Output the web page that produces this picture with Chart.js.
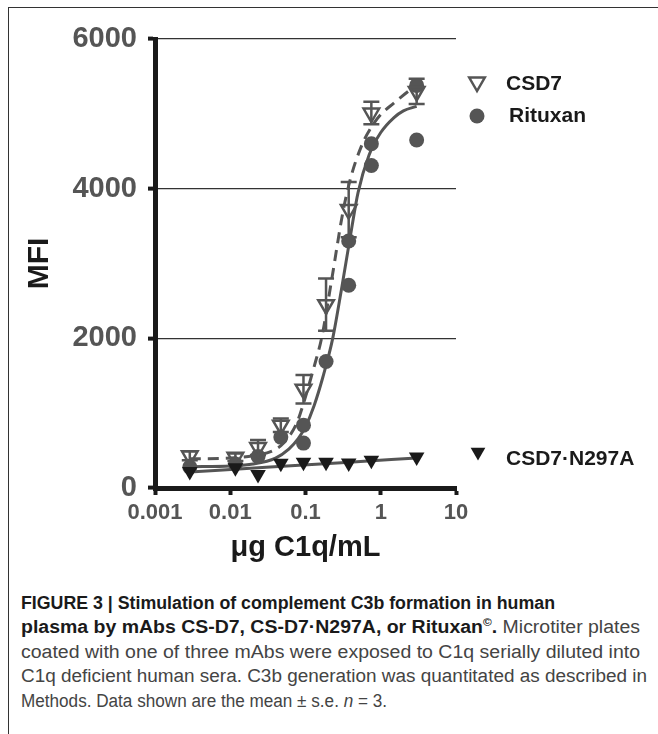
<!DOCTYPE html>
<html><head><meta charset="utf-8">
<script src="https://cdn.jsdelivr.net/npm/chart.js@4.4.1/dist/chart.umd.min.js"></script>
<style>
html,body{margin:0;padding:0;background:#fff;width:658px;height:734px;overflow:hidden;position:relative;}
#frame{position:absolute;left:8px;top:7px;width:660px;height:740px;border-left:1.5px solid #333;border-top:1.5px solid #333;}
#wrap{position:absolute;left:0;top:0;width:658px;height:580px;}
#cap{position:absolute;left:21px;top:591px;font-family:"Liberation Sans",Arial,sans-serif;font-size:18px;line-height:24.4px;color:#444;white-space:nowrap;}
#cap .ln{display:block;height:24.4px;}
#cap .ln span.fit{display:inline-block;transform-origin:0 50%;}
#cap b{color:#1a1a1a;}
#cap sup{font-size:11px;vertical-align:7px;line-height:0;}
</style></head>
<body>
<div id="frame"></div>
<div id="wrap"><canvas id="c" width="658" height="580"></canvas></div>
<div id="cap">
<div class="ln"><span class="fit" data-w="534"><b>FIGURE 3 | Stimulation of complement C3b formation in human</b></span></div>
<div class="ln"><span class="fit" data-w="619"><b>plasma by mAbs CS-D7, CS-D7·N297A, or Rituxan<sup>©</sup>.</b> Microtiter plates</span></div>
<div class="ln"><span class="fit" data-w="619">coated with one of three mAbs were exposed to C1q serially diluted into</span></div>
<div class="ln"><span class="fit" data-w="626">C1q deficient human sera. C3b generation was quantitated as described in</span></div>
<div class="ln"><span class="fit" data-w="366">Methods. Data shown are the mean ± s.e. <i>n</i> = 3.</span></div>
</div>
<script>
// ---- data ----
const concentrations = [0.0029, 0.0117, 0.0234, 0.047, 0.094, 0.1875, 0.375, 0.75, 3];
const csd7Mean = [430, 410, 540, 840, 1320, 2450, 3720, 5010, 5300];
const csd7Sem  = [60, 50, 100, 90, 190, 350, 370, 150, 170];
const n297aMean = [220, 270, 180, 330, 345, 345, 335, 370, 415];
const rituxanConc = [0.0029, 0.0117, 0.0234, 0.047, 0.094, 0.094, 0.1875, 0.375, 0.375, 0.75, 0.75, 3, 3];
const rituxanMfi  = [280, 320, 420, 680, 840, 600, 1690, 3300, 2710, 4600, 4310, 5380, 4650];

const csd7FitX = [0.0029, 0.01, 0.02, 0.037, 0.05, 0.076, 0.094, 0.13, 0.165, 0.22, 0.316, 0.4, 0.56, 0.76, 1.0, 1.48, 2.46, 3];
const csd7FitY = [390, 400, 430, 500, 590, 860, 1130, 1620, 2020, 2750, 3700, 4150, 4580, 4830, 4990, 5140, 5320, 5380];
const rituxanFitX = [0.0029, 0.01, 0.02, 0.04, 0.06, 0.08, 0.1, 0.13, 0.17, 0.23, 0.3, 0.4, 0.5, 0.7, 1, 1.5, 2, 3];
const rituxanFitY = [285, 295, 320, 400, 520, 660, 820, 1100, 1480, 2000, 2650, 3400, 3950, 4450, 4750, 4950, 5040, 5100];
const n297aFitX = [0.0029, 0.03, 0.3, 3];
const n297aFitY = [215, 277, 339, 400];

const xTickValues = [0.001, 0.01, 0.1, 1, 10];
const xTickLabels = ['0.001', '0.01', '0.1', '1', '10'];
const yTickStep = 2000;
const seriesNames = ['CSD7', 'Rituxan', 'CSD7·N297A'];

// fit caption lines to the widths in the reference
document.querySelectorAll('#cap span.fit').forEach(s => {
  const w = s.getBoundingClientRect().width;
  s.style.transform = 'scaleX(' + (parseFloat(s.dataset.w) / w) + ')';
});

const pts = (xs, ys) => xs.map((x, i) => ({x: x, y: ys[i]}));
const FONT = '"Liberation Sans", Arial, sans-serif';
const GREY = '#555555';
const DARK = '#1a1a1a';

const errorBars = {
  id: 'errorBars',
  beforeDatasetsDraw(chart) {
    const {ctx, scales: {x, y}} = chart;
    ctx.save();
    ctx.strokeStyle = GREY;
    ctx.lineWidth = 2.5;
    concentrations.forEach((c, i) => {
      const px = x.getPixelForValue(c);
      const yt = y.getPixelForValue(csd7Mean[i] + csd7Sem[i]);
      const yb = y.getPixelForValue(csd7Mean[i] - csd7Sem[i]);
      ctx.beginPath();
      ctx.moveTo(px, yt); ctx.lineTo(px, yb);
      ctx.moveTo(px - 8, yt); ctx.lineTo(px + 8, yt);
      ctx.moveTo(px - 8, yb); ctx.lineTo(px + 8, yb);
      ctx.stroke();
    });
    ctx.restore();
  }
};

function tri(ctx, cx, cy, r) {
  ctx.beginPath();
  ctx.moveTo(cx, cy + r);
  ctx.lineTo(cx - r * 0.866, cy - r * 0.5);
  ctx.lineTo(cx + r * 0.866, cy - r * 0.5);
  ctx.closePath();
}

const customLegend = {
  id: 'customLegend',
  afterDraw(chart) {
    const ctx = chart.ctx;
    ctx.save();
    tri(ctx, 477, 82, 9);
    ctx.lineWidth = 2.5; ctx.strokeStyle = GREY; ctx.stroke();
    ctx.beginPath(); ctx.arc(477, 116, 7.5, 0, Math.PI * 2); ctx.fillStyle = GREY; ctx.fill();
    tri(ctx, 478, 452, 8.5); ctx.fillStyle = DARK; ctx.fill();
    ctx.fillStyle = DARK;
    ctx.font = 'bold 21px ' + FONT;
    ctx.textBaseline = 'middle';
    ctx.textAlign = 'left';
    ctx.fillText(seriesNames[0], 506, 84);
    ctx.fillText(seriesNames[1], 509, 116);
    ctx.fillText(seriesNames[2], 506, 459);
    ctx.restore();
  }
};

new Chart(document.getElementById('c'), {
  type: 'scatter',
  data: {
    datasets: [
      {label: seriesNames[0], data: pts(concentrations, csd7Mean), pointStyle: 'triangle', rotation: 180, pointRadius: 9,
       borderWidth: 2.5, borderColor: GREY, backgroundColor: 'rgba(255,255,255,0)', order: 1},
      {label: seriesNames[1], data: pts(rituxanConc, rituxanMfi), pointStyle: 'circle', pointRadius: 7.5,
       borderWidth: 0, backgroundColor: GREY, borderColor: GREY, order: 1},
      {label: seriesNames[2], data: pts(concentrations, n297aMean), pointStyle: 'triangle', rotation: 180, pointRadius: 9,
       borderWidth: 0, backgroundColor: DARK, borderColor: DARK, order: 0},
      {label: 'CSD7 fit', data: pts(csd7FitX, csd7FitY), showLine: true, pointRadius: 0, borderColor: GREY,
       borderWidth: 3, borderDash: [11, 7], cubicInterpolationMode: 'monotone', order: 2},
      {label: 'Rituxan fit', data: pts(rituxanFitX, rituxanFitY), showLine: true, pointRadius: 0, borderColor: GREY,
       borderWidth: 3, cubicInterpolationMode: 'monotone', order: 2},
      {label: 'N297A fit', data: pts(n297aFitX, n297aFitY), showLine: true, pointRadius: 0, borderColor: GREY,
       borderWidth: 3, cubicInterpolationMode: 'monotone', order: 2}
    ]
  },
  options: {
    responsive: false,
    animation: false,
    devicePixelRatio: 1,
    layout: {padding: {top: 39, right: 202, bottom: 0, left: 0}},
    plugins: {legend: {display: false}, tooltip: {enabled: false}},
    scales: {
      x: {
        type: 'logarithmic', min: 0.001, max: 10,
        afterBuildTicks: s => { s.ticks = xTickValues.map(v => ({value: v})); },
        afterFit: s => { s.height = 92; },
        ticks: {callback: (v, i) => xTickLabels[i], color: GREY, font: {family: FONT, size: 22, weight: 'bold'},
                padding: 5, autoSkip: false, maxRotation: 0},
        grid: {drawOnChartArea: false, drawTicks: true, tickLength: 7, tickWidth: 4, tickColor: DARK},
        border: {display: true, color: DARK, width: 5},
        title: {display: true, text: 'μg C1q/mL', color: DARK, font: {family: FONT, size: 29, weight: 'bold'},
                padding: {top: 0, bottom: 15}}
      },
      y: {
        min: 0, max: 6000,
        afterFit: s => { s.width = 155; },
        ticks: {stepSize: yTickStep, callback: v => String(v), color: GREY,
                font: {family: FONT, size: 29, weight: 'bold'}, padding: 11},
        grid: {color: c => (c.tick && c.tick.value === 0) ? 'rgba(0,0,0,0)' : '#333', lineWidth: 1.2,
               tickLength: 7, tickWidth: 4, tickColor: DARK},
        border: {display: true, color: DARK, width: 5},
        title: {display: true, text: 'MFI', color: DARK, font: {family: FONT, size: 30, weight: 'bold'},
                padding: {top: 22, bottom: 0}}
      }
    }
  },
  plugins: [errorBars, customLegend]
});
</script>
</body></html>
